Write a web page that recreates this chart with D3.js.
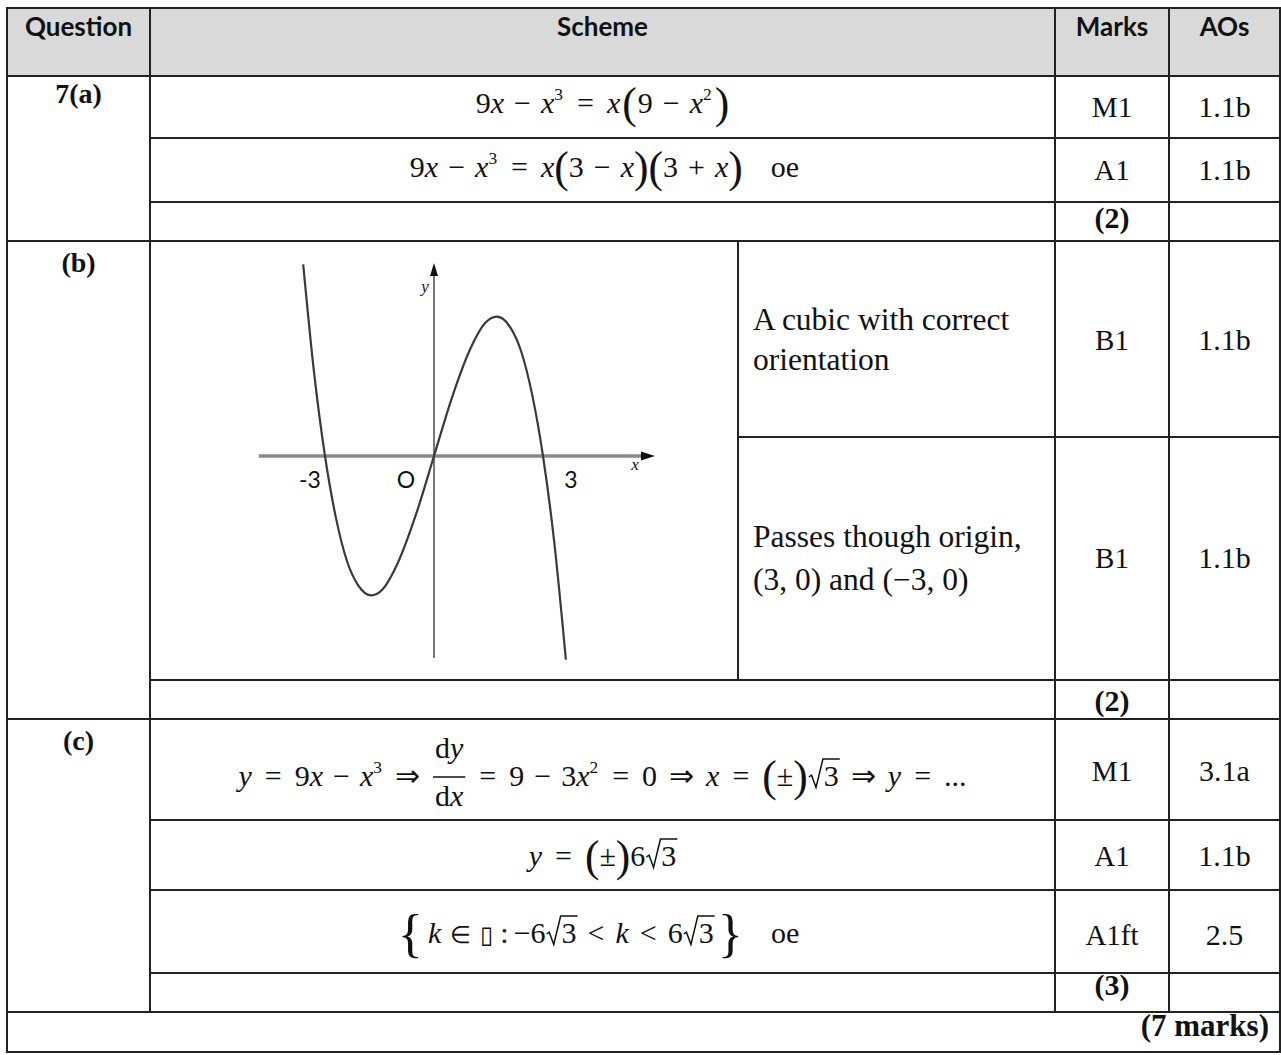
<!DOCTYPE html>
<html>
<head>
<meta charset="utf-8">
<script src="https://cdn.jsdelivr.net/npm/d3@7"></script>
<style>
  body { margin: 0; background: #fff; }
  svg { display: block; }
  .serif { font-family: "Liberation Serif", "Times New Roman", serif; fill: #111; }
  .sans { font-family: Lato, "Open Sans", sans-serif; fill: #111; }
</style>
</head>
<body>
<svg id="chart" width="1281" height="1055"></svg>
<script>
const headers = ["Question", "Scheme", "Marks", "AOs"];
const parts = ["7(a)", "(b)", "(c)"];
const marks = ["M1", "A1", "(2)", "B1", "B1", "(2)", "M1", "A1", "A1ft", "(3)"];
const aos = ["1.1b", "1.1b", "", "1.1b", "1.1b", "", "3.1a", "1.1b", "2.5", ""];
const totalLabel = "(7 marks)";
const graphNotes = [["A cubic with correct", "orientation"],
                    ["Passes though origin,", "(3, 0) and (\u22123, 0)"]];

// sketch of y = 9x - x^3
const curveX = [-3.6, -3.3, -3, -2.7, -2.4, -2.1, -1.73, -1.4, -1, -0.5, 0, 0.5, 1, 1.4, 1.73, 2.1, 2.4, 2.7, 3, 3.3, 3.63];
const curveY = [14.3, 6.2, 0, -4.6, -7.8, -9.6, -10.4, -9.9, -8, -4.4, 0, 4.4, 8, 9.9, 10.4, 9.6, 7.8, 4.6, 0, -6.2, -15.2];
const tickValues = [-3, 0, 3];
const tickLabels = ["-3", "O", "3"];
const xAxisExtent = [-4.82, 6.08];
const yAxisExtent = [-15.07, 14.4];

// ---- layout ----
var L = 7, R = 1280, T = 8, B = 1052;
var cQ = 150, cG = 738, cS = 1055, cM = 1169;
var fs = 30; // math size

var svg = d3.select("#chart");

// header band
svg.append("rect").attr("x", L).attr("y", T).attr("width", R - L).attr("height", 76 - T).attr("fill", "#d9d9d9");

var gridLines = [
  [cQ, T, cQ, 1012], [cS, T, cS, 1012], [cM, T, cM, 1012], [cG, 241, cG, 680],
  [L, 76, R, 76], [cQ, 138, R, 138], [cQ, 202, R, 202], [L, 241, R, 241],
  [cG, 437, R, 437], [cQ, 680, R, 680], [L, 719, R, 719],
  [cQ, 820, R, 820], [cQ, 890, R, 890], [cQ, 973, R, 973], [L, 1012, R, 1012]
];
svg.selectAll(".grid").data(gridLines).enter().append("line")
  .attr("class", "grid")
  .attr("x1", d => d[0]).attr("y1", d => d[1]).attr("x2", d => d[2]).attr("y2", d => d[3])
  .attr("stroke", "#222").attr("stroke-width", 2);
svg.append("rect").attr("x", L).attr("y", T).attr("width", R - L).attr("height", B - T)
  .attr("fill", "none").attr("stroke", "#222").attr("stroke-width", 2);

// headers
var headerX = [(L + cQ) / 2, (cQ + cS) / 2, (cS + cM) / 2, (cM + R) / 2];
svg.selectAll(".hdr").data(headers).enter().append("text")
  .attr("class", "sans hdr").attr("x", (d, i) => headerX[i]).attr("y", 36)
  .attr("text-anchor", "middle").attr("font-size", 26).attr("font-weight", 700)
  .text(d => d);

// question parts
var partY = [103, 272, 750];
svg.selectAll(".part").data(parts).enter().append("text")
  .attr("class", "serif part").attr("x", (L + cQ) / 2).attr("y", (d, i) => partY[i])
  .attr("text-anchor", "middle").attr("font-size", 28).attr("font-weight", 700)
  .text(d => d);

// marks + AOs
var markY = [117, 180, 228, 350, 568, 711, 781, 866, 945, 995];
svg.selectAll(".mark").data(marks).enter().append("text")
  .attr("class", "serif mark").attr("x", (cS + cM) / 2).attr("y", (d, i) => markY[i])
  .attr("text-anchor", "middle")
  .attr("font-size", d => d.startsWith("(") ? 30 : 29)
  .attr("font-weight", d => d.startsWith("(") ? 700 : 400)
  .text(d => d);
svg.selectAll(".ao").data(aos).enter().append("text")
  .attr("class", "serif ao").attr("x", (cM + R) / 2).attr("y", (d, i) => markY[i])
  .attr("text-anchor", "middle").attr("font-size", 30)
  .text(d => d);

svg.append("text").attr("class", "serif").attr("x", 1269).attr("y", 1036)
  .attr("text-anchor", "end").attr("font-size", 31).attr("font-weight", 700)
  .text(totalLabel);

// notes beside graph
var noteY = [[330, 370], [547, 590]];
graphNotes.forEach(function(lines, i) {
  lines.forEach(function(s, j) {
    svg.append("text").attr("class", "serif").attr("x", 753).attr("y", noteY[i][j])
      .attr("font-size", 31.5).text(s);
  });
});

// ---- small math typesetter: each piece is its own text, laid out left to right ----
function op(s, p) { return [s, "n", p, p]; }

function typeset(parent, segs, size) {
  var g = parent.append("g");
  var x = 0;
  segs.forEach(function(sg) {
    var s = sg[0], k = sg[1], pb = sg[2] || 0, pa = sg[3] || 0;
    if (k === "frac") {
      var num = typeset(g, s[0], size), den = typeset(g, s[1], size);
      var w = Math.max(num.w, den.w) + 4;
      x += pb;
      num.g.attr("transform", "translate(" + (x + (w - num.w) / 2) + "," + (-size * 0.93) + ")");
      den.g.attr("transform", "translate(" + (x + (w - den.w) / 2) + "," + (size * 0.67) + ")");
      g.append("line").attr("x1", x).attr("x2", x + w)
        .attr("y1", -size * 0.3).attr("y2", -size * 0.3)
        .attr("stroke", "#111").attr("stroke-width", 1.4);
      x += w + pa;
      return;
    }
    var sz = size, dy = 0;
    if (k === "sup") { sz = size * 0.58; dy = -size * 0.42; }
    if (k === "big") { sz = size * 1.45; dy = size * 0.17; }
    if (k === "brace") { sz = size * 1.75; dy = size * 0.28; }
    if (k === "small") { sz = size * 0.8; }
    x += pb;
    if (k === "root") {
      var rx = x;
      x += size * 0.5;
      var t = g.append("text").attr("class", "serif").attr("font-size", sz).attr("x", x).attr("y", 0).text(s);
      var w = t.node().getComputedTextLength();
      var top = -size * 0.9;
      g.append("path")
        .attr("d", "M" + rx + "," + (-size * 0.3) + " L" + (rx + size * 0.09) + "," + (-size * 0.36) +
          " L" + (rx + size * 0.24) + "," + (size * 0.05) + " L" + (rx + size * 0.47) + "," + top +
          " L" + (x + w + 1) + "," + top)
        .attr("fill", "none").attr("stroke", "#111").attr("stroke-width", 1.5)
        .attr("stroke-linejoin", "miter");
      x += w + pa;
      return;
    }
    var t = g.append("text").attr("class", "serif").attr("font-size", sz)
      .attr("x", x).attr("y", dy).text(s);
    if (k === "i") t.attr("font-style", "italic");
    x += t.node().getComputedTextLength() + pa;
    if (k === "sup") x += 1;
  });
  return { g: g, w: x };
}

function mathRow(segs, cx, y) {
  var r = typeset(svg, segs, fs);
  r.g.attr("transform", "translate(" + (cx - r.w / 2) + "," + y + ")");
  return r;
}

var mid = (cQ + cS) / 2;
var MI = op("\u2212", 10), PL = op("+", 10), EQ = op("=", 13), IMP = op("\u21D2", 12), LT = op("<", 11);

mathRow([["9", "n"], ["x", "i"], MI, ["x", "i"], ["3", "sup"], EQ,
  ["x", "i"], ["(", "big", 2, 1], ["9", "n"], MI, ["x", "i"], ["2", "sup"], [")", "big", 2, 0]], mid, 113);

mathRow([["9", "n"], ["x", "i"], MI, ["x", "i"], ["3", "sup"], EQ,
  ["x", "i"], ["(", "big"], ["3", "n"], MI, ["x", "i"], [")", "big"], ["(", "big"], ["3", "n"],
  PL, ["x", "i"], [")", "big"], ["oe", "n", 28, 0]], mid + 2, 177);

mathRow([["y", "i"], EQ, ["9", "n"], ["x", "i"], MI, ["x", "i"], ["3", "sup"], IMP,
  [[[["d", "n"], ["y", "i"]], [["d", "n"], ["x", "i"]]], "frac", 1, 1],
  EQ, ["9", "n"], MI, ["3", "n"], ["x", "i"], ["2", "sup"], EQ, ["0", "n"], IMP,
  ["x", "i"], EQ, ["(", "big"], ["\u00B1", "n"], [")", "big"], ["3", "root", 1, 0], IMP,
  ["y", "i"], EQ, ["...", "n"]], mid, 786);

mathRow([["y", "i"], EQ, ["(", "big"], ["\u00B1", "n"], [")", "big"], ["6", "n"], ["3", "root", 1, 0]], mid, 866);

mathRow([["{", "brace", 0, 5], ["k", "i"], ["\u2208", "small", 9, 9], ["\u25AF", "small", 0, 7], [":", "n", 0, 5],
  ["\u22126", "n"], ["3", "root", 1, 0], LT, ["k", "i"], LT, ["6", "n"], ["3", "root", 1, 4],
  ["}", "brace"], ["oe", "n", 28, 0]], mid - 4, 943);

// ---- the cubic sketch ----
var xs = d3.scaleLinear().domain([-3, 3]).range([325, 543]);
var ys = d3.scaleLinear().domain([-15, 15]).range([657, 255]);
var gGraph = svg.append("g");

// x axis (grey, heavier) and y axis
gGraph.append("line").attr("x1", xs(xAxisExtent[0])).attr("x2", xs(xAxisExtent[1]) - 10)
  .attr("y1", ys(0)).attr("y2", ys(0)).attr("stroke", "#8a8a8a").attr("stroke-width", 3.5);
gGraph.append("path")
  .attr("d", "M" + xs(xAxisExtent[1]) + "," + ys(0) + " l-14,-4.5 l0,9 Z").attr("fill", "#111");
gGraph.append("line").attr("x1", xs(0)).attr("x2", xs(0))
  .attr("y1", ys(yAxisExtent[0])).attr("y2", ys(yAxisExtent[1]) + 8)
  .attr("stroke", "#555").attr("stroke-width", 1.6);
gGraph.append("path")
  .attr("d", "M" + xs(0) + "," + ys(yAxisExtent[1]) + " l-4,13 l8,0 Z").attr("fill", "#111");

gGraph.append("text").attr("class", "serif").attr("x", xs(0) - 9).attr("y", 292)
  .attr("font-size", 17).attr("font-style", "italic").attr("text-anchor", "middle").text("y");
gGraph.append("text").attr("class", "serif").attr("x", xs(0) + 201).attr("y", 470)
  .attr("font-size", 17).attr("font-style", "italic").attr("text-anchor", "middle").text("x");

var tickOffset = [-15, -28, 28];
gGraph.selectAll(".tick").data(tickValues).enter().append("text")
  .attr("class", "sans tick").attr("x", (d, i) => xs(d) + tickOffset[i]).attr("y", 488)
  .attr("text-anchor", "middle").attr("font-size", 23).text((d, i) => tickLabels[i]);

var pts = curveX.map((x, i) => [x, curveY[i]]);
gGraph.append("path").datum(pts)
  .attr("d", d3.line().x(d => xs(d[0])).y(d => ys(d[1])).curve(d3.curveMonotoneX))
  .attr("fill", "none").attr("stroke", "#3a3a3a").attr("stroke-width", 2.2);
</script>
</body>
</html>
